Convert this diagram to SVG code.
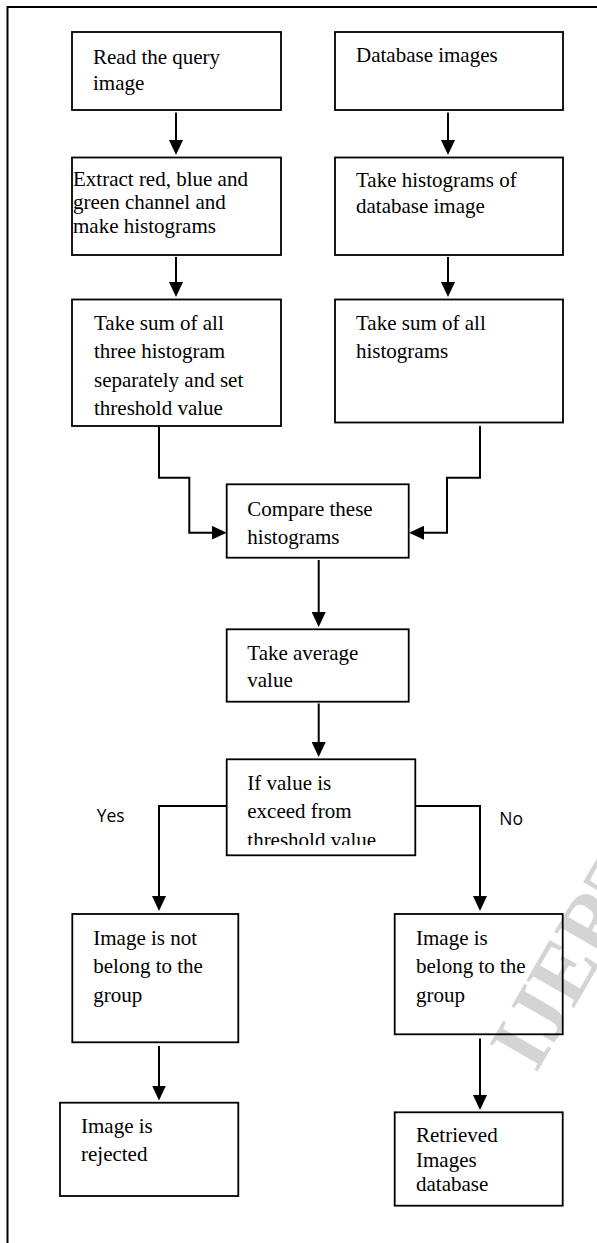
<svg xmlns="http://www.w3.org/2000/svg" width="597" height="1243" viewBox="0 0 597 1243">
  <style>
    .box { fill: none; stroke: #000000; stroke-width: 1.8; }
    .t { font-family: "Liberation Serif", "Times New Roman", serif; font-size: 21px; fill: #000000; }
    .lbl { font-family: "Open Sans", "Liberation Sans", sans-serif; font-size: 17.5px; fill: #000000; }
    .conn { fill: none; stroke: #000000; stroke-width: 2; }
    .wm { font-family: "Liberation Serif", serif; font-weight: bold; font-size: 84px; fill: #d4d4d4; }
  </style>
  <defs>
    <marker id="arrow" markerUnits="userSpaceOnUse" markerWidth="15" markerHeight="14" refX="10" refY="7" orient="auto">
      <path d="M0,0 L15,7 L0,14 z" fill="#000000"/>
    </marker>
    <clipPath id="clipIf">
      <rect x="226" y="759" width="190" height="86"/>
    </clipPath>
  </defs>

  <rect width="597" height="1243" fill="#ffffff"/>

  <!-- watermark -->
  <text class="wm" x="536" y="1074" transform="rotate(-60 536 1074)">IJERT</text>

  <!-- outer frame -->
  <path d="M7.5,1243 V7 H597" fill="none" stroke="#000000" stroke-width="2"/>

  <g id="connectors">
    <path class="conn" d="M176,112.5 V150" marker-end="url(#arrow)"/>
    <path class="conn" d="M448,112.5 V150" marker-end="url(#arrow)"/>
    <path class="conn" d="M176,257 V292" marker-end="url(#arrow)"/>
    <path class="conn" d="M448,257 V292" marker-end="url(#arrow)"/>
    <path class="conn" d="M159,426 V477.7 H189.3 V532.7 H221.7" marker-end="url(#arrow)"/>
    <path class="conn" d="M480,426 V477.7 H447 V532.7 H414" marker-end="url(#arrow)"/>
    <path class="conn" d="M318.7,560 V622" marker-end="url(#arrow)"/>
    <path class="conn" d="M318.7,703.5 V752" marker-end="url(#arrow)"/>
    <path class="conn" d="M226.7,806 H159 V906" marker-end="url(#arrow)"/>
    <path class="conn" d="M415.3,806 H480 V906" marker-end="url(#arrow)"/>
    <path class="conn" d="M159,1046 V1095.5" marker-end="url(#arrow)"/>
    <path class="conn" d="M480,1038.5 V1105" marker-end="url(#arrow)"/>
  </g>

  <g id="read-query">
    <rect class="box" x="72" y="32" width="209" height="78"/>
    <text class="t" x="93" y="63.5">Read the query</text>
    <text class="t" x="93" y="90">image</text>
  </g>
  <g id="database-images">
    <rect class="box" x="335" y="32" width="228" height="78"/>
    <text class="t" x="356" y="62">Database images</text>
  </g>
  <g id="extract-channels">
    <rect class="box" x="72" y="157.5" width="209" height="97.5"/>
    <text class="t" x="73" y="185.5">Extract red, blue and</text>
    <text class="t" x="73" y="209">green channel and</text>
    <text class="t" x="73" y="232.5">make histograms</text>
  </g>
  <g id="take-histograms">
    <rect class="box" x="335" y="157.5" width="228" height="97.5"/>
    <text class="t" x="356" y="187.3">Take histograms of</text>
    <text class="t" x="356" y="213.3">database image</text>
  </g>
  <g id="sum-three">
    <rect class="box" x="72" y="299.5" width="209" height="126.5"/>
    <text class="t" x="94" y="330">Take sum of all</text>
    <text class="t" x="94" y="358.3">three histogram</text>
    <text class="t" x="94" y="386.7">separately and set</text>
    <text class="t" x="94" y="415">threshold value</text>
  </g>
  <g id="sum-all">
    <rect class="box" x="335" y="299.5" width="228" height="123"/>
    <text class="t" x="356" y="330">Take sum of all</text>
    <text class="t" x="356" y="358.3">histograms</text>
  </g>
  <g id="compare">
    <rect class="box" x="226.7" y="484.3" width="182" height="73.4"/>
    <text class="t" x="247.3" y="516.3">Compare these</text>
    <text class="t" x="247.3" y="543.5">histograms</text>
  </g>
  <g id="average">
    <rect class="box" x="226.7" y="629.3" width="182" height="72.4"/>
    <text class="t" x="247.3" y="660">Take average</text>
    <text class="t" x="247.3" y="686.7">value</text>
  </g>
  <g id="decision">
    <rect class="box" x="226.7" y="759.3" width="188.6" height="96"/>
    <g clip-path="url(#clipIf)">
      <text class="t" x="247.3" y="790">If value is</text>
      <text class="t" x="247.3" y="818.3">exceed from</text>
      <text class="t" x="247.3" y="846.7">threshold value</text>
    </g>
  </g>
  <g id="labels">
    <text class="lbl" x="96.7" y="821.7">Yes</text>
    <text class="lbl" x="499.3" y="825">No</text>
  </g>
  <g id="not-belong">
    <rect class="box" x="72.3" y="914" width="166" height="128.3"/>
    <text class="t" x="93.3" y="945">Image is not</text>
    <text class="t" x="93.3" y="973.3">belong to the</text>
    <text class="t" x="93.3" y="1001.7">group</text>
  </g>
  <g id="rejected">
    <rect class="box" x="60" y="1102.7" width="178.3" height="93.3"/>
    <text class="t" x="81" y="1133.3">Image is</text>
    <text class="t" x="81" y="1160.7">rejected</text>
  </g>
  <g id="belong">
    <rect class="box" x="394.7" y="914" width="168" height="120.3"/>
    <text class="t" x="416" y="945">Image is</text>
    <text class="t" x="416" y="973.3">belong to the</text>
    <text class="t" x="416" y="1001.7">group</text>
  </g>
  <g id="retrieved">
    <rect class="box" x="394.7" y="1112.3" width="168" height="93.4"/>
    <text class="t" x="416" y="1141.7">Retrieved</text>
    <text class="t" x="416" y="1166.7">Images</text>
    <text class="t" x="416" y="1190.7">database</text>
  </g>
</svg>
